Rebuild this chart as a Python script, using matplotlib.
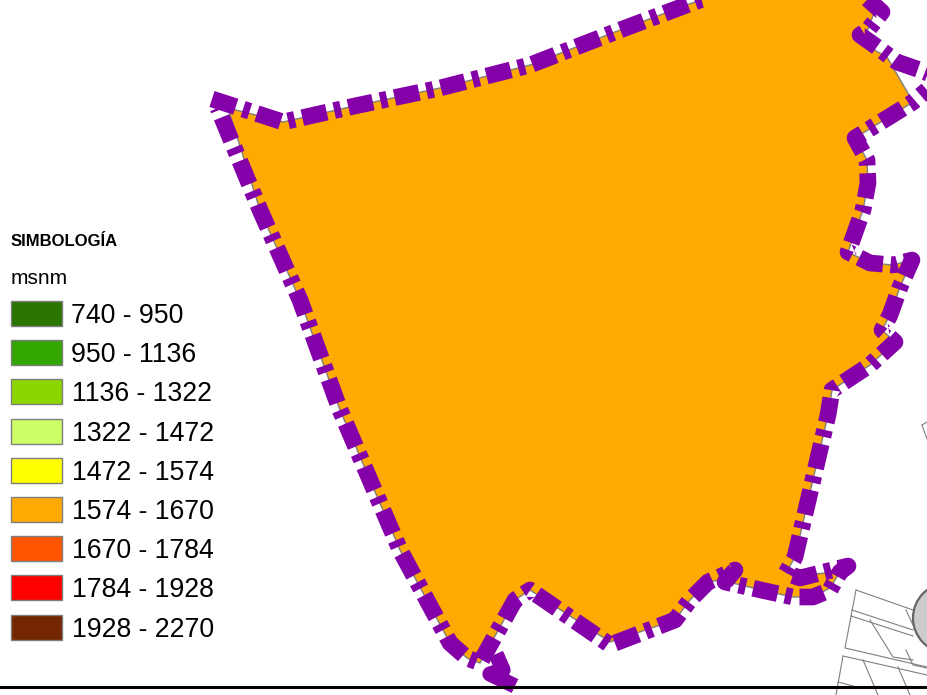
import matplotlib
matplotlib.use('Agg')
import matplotlib.pyplot as plt
from matplotlib.patches import Polygon, Rectangle, Circle

plt.rcParams['font.family'] = ['Liberation Sans', 'DejaVu Sans']
plt.rcParams['lines.scale_dashes'] = False

# legend classes
class_labels = ['740 - 950', '950 - 1136', '1136 - 1322', '1322 - 1472', '1472 - 1574',
                '1574 - 1670', '1670 - 1784', '1784 - 1928', '1928 - 2270']
class_colors = ['#2a7500', '#33a600', '#8cd600', '#ccff66', '#ffff00',
                '#ffaa00', '#ff5500', '#ff0000', '#732600']

# outline of the zone in pixels
zone_x = [228, 283, 350, 440, 530, 620, 700, 730, 865, 877, 867, 860, 887, 913, 897, 855, 867, 868,
          863, 848, 870, 893, 912, 900, 890, 882, 895, 870, 832, 828, 795, 786, 800, 840, 830, 813,
          793, 770, 720, 708, 690, 675, 610, 530, 515, 480, 467, 450, 400, 340, 300, 260]
zone_y = [108, 122, 107, 88, 65, 30, 0, -8, -8, 5, 32, 42, 57, 102, 112, 138, 160, 183,
          210, 252, 263, 265, 260, 287, 315, 330, 342, 365, 390, 415, 557, 573, 575, 572, 588, 597,
          597, 592, 580, 582, 600, 620, 642, 590, 600, 663, 658, 643, 550, 410, 300, 210]

# purple boundary, cut in pieces where it leaves the zone
border_x = [927, 913, 897, 855, 867, 868, 863, 848, 870, 893, 912, 900, 890, 882, 895, 870, 832, 828,
            795, 786, 800, 848, 840, 830, 813, 793, 770, 725, 735, 708, 690, 675, 610, 530, 515, 480,
            467, 450, 400, 340, 300, 260, 222, 218]
border_y = [90, 102, 112, 138, 160, 183, 210, 252, 263, 265, 260, 287, 315, 330, 342, 365, 390, 415,
            557, 573, 578, 566, 572, 590, 597, 597, 592, 582, 570, 582, 600, 620, 645, 590, 600, 663,
            658, 643, 550, 410, 300, 210, 118, 108]
border_top_x = [212, 283, 350, 440, 530, 620, 700, 730]
border_top_y = [99, 122, 107, 88, 65, 30, 0, -8]
border2_x = [860, 882, 868, 860, 877, 897, 920, 935]
border2_y = [-8, 12, 30, 35, 47, 62, 70, 76]
# this stub at the bottom reads as nearly solid
stub_x = [496, 503, 490, 515]
stub_y = [654, 670, 674, 686]

# neighbouring parcels at the lower right
parcel_lines = [
    ([856, 845, 927], [590, 648, 667]),
    ([856, 913], [590, 610]),
    ([852, 913], [610, 630]),
    ([851, 913], [616, 636]),
    ([870, 893, 913], [620, 657, 660]),
    ([906, 913, 927], [650, 665, 668]),
    ([843, 927], [656, 675]),
    ([843, 836], [656, 695]),
    ([863, 878], [660, 695]),
    ([898, 910], [667, 695]),
    ([838, 853], [682, 686]),
    ([922, 927], [425, 422]),
    ([922, 927], [425, 439]),
    ([906, 913], [610, 625]),
]
circle_x, circle_y, circle_r = 948, 618, 35

fig = plt.figure(figsize=(9.27, 6.95), dpi=100)
ax = fig.add_axes([0, 0, 1, 1])
ax.set_xlim(0, 927)
ax.set_ylim(695, 0)
ax.axis('off')

for xs, ys in parcel_lines:
    ax.plot(xs, ys, color='#7f7f7f', lw=0.8, zorder=1)
ax.add_patch(Circle((circle_x, circle_y), circle_r, facecolor='#cccccc', edgecolor='#666666', lw=1.6, zorder=2))

ax.add_patch(Polygon(list(zip(zone_x, zone_y)), closed=True, facecolor='#ffaa00', edgecolor='#7f7f7f', lw=1, zorder=3))

# dash lengths are in points: long, gap, short, gap
pattern = (18, 5.5, 5, 5.5)
for xs, ys, phase in [(border_x, border_y, 12), (border_top_x, border_top_y, 0),
                      (border2_x, border2_y, 0)]:
    ax.plot(xs, ys, color='#8400a8', lw=12, linestyle=(phase, pattern), dash_capstyle='butt',
            dash_joinstyle='round', zorder=4)
ax.plot(stub_x, stub_y, color='#8400a8', lw=11, solid_capstyle='butt', solid_joinstyle='round', zorder=4)

# legend
ax.text(11, 242, 'SIMBOLOGÍA', fontsize=12, fontweight='bold', va='center', ha='left', color='black')
ax.text(11, 278.5, 'msnm', fontsize=15, va='center', ha='left', color='black')
for i, (lab, col) in enumerate(zip(class_labels, class_colors)):
    top = 301 + i * 39.2
    ax.add_patch(Rectangle((11, top), 51, 25, facecolor=col, edgecolor='#7f7f7f', lw=1, zorder=5))
    ax.text(71 if i < 2 else 72, top + 15, lab, fontsize=19.2, va='center', ha='left', color='black')

# frame line at the bottom
ax.plot([0, 927], [686.5, 686.5], color='black', lw=2.2, zorder=6)

fig.savefig('out.png', dpi=100)
